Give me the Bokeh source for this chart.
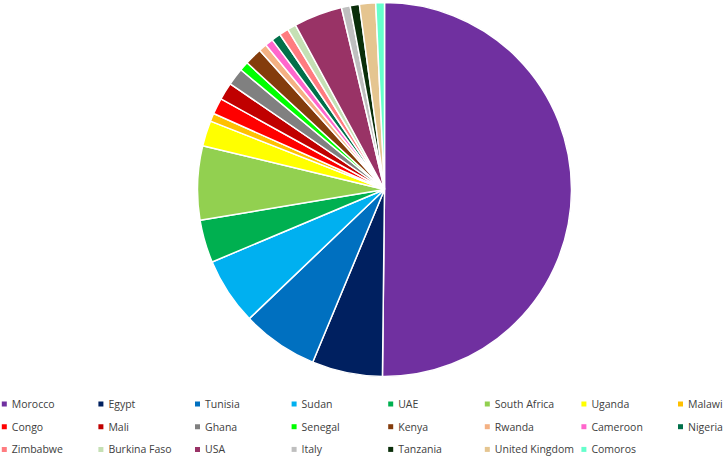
import math
from bokeh.plotting import figure
from bokeh.models import Range1d, ColumnDataSource
from bokeh.core.properties import value
from bokeh.embed import file_html
from bokeh.resources import INLINE

countries = ["Morocco", "Egypt", "Tunisia", "Sudan", "UAE", "South Africa", "Uganda", "Malawi",
             "Congo", "Mali", "Ghana", "Senegal", "Kenya", "Rwanda", "Cameroon", "Nigeria",
             "Zimbabwe", "Burkina Faso", "USA", "Italy", "Tanzania", "United Kingdom", "Comoros"]
shares = [50.2, 6.1, 6.6, 5.8, 3.7, 6.4, 2.2, 0.7,
          1.4, 1.5, 1.5, 0.8, 1.5, 0.7, 0.7, 0.8,
          0.8, 0.75, 4.2, 0.75, 0.8, 1.4, 0.75]
colors = ["#7030A0", "#002060", "#0070C0", "#00B0F0", "#00B050", "#92D050", "#FFFF00", "#FFC000",
          "#FF0000", "#C00000", "#808080", "#00FF00", "#843C0C", "#F4B183", "#FF66CC", "#00704A",
          "#FF7C80", "#C5E0B4", "#993366", "#BFBFBF", "#0A2E0A", "#E5C590", "#66FFCC"]

W, H = 725, 457
p = figure(width=W, height=H, output_backend="svg", toolbar_location=None,
           x_range=Range1d(0, W), y_range=Range1d(0, H), min_border=0)
p.axis.visible = False
p.grid.visible = False
p.outline_line_color = None
p.background_fill_color = "white"

total = sum(shares)
starts, ends = [], []
cum = 0.0
for s in shares:
    starts.append(math.pi / 2 - cum / total * 2 * math.pi)
    cum += s
    ends.append(math.pi / 2 - cum / total * 2 * math.pi)

src = ColumnDataSource(dict(start=starts, end=ends, color=colors, name=countries))
cx, cy, r = 384, H - 189, 187
p.wedge(x=cx, y=cy, radius=r, start_angle="start", end_angle="end", direction="clock",
        fill_color="color", line_color="white", line_width=1.5, source=src)

# legend
ncol = 8
lx = [3.8 + (i % ncol) * 96.6 for i in range(len(countries))]
ly = [H - (403.5 + (i // ncol) * 22.7) for i in range(len(countries))]
lsrc = ColumnDataSource(dict(x=lx, y=ly, tx=[x + 7.5 for x in lx], color=colors, name=countries))
p.scatter(x="x", y="y", marker="square", size=5, fill_color="color", line_color=None, source=lsrc)
p.text(x="tx", y="y", text="name", text_font=value("Open Sans"), text_font_size="10.5px",
       text_color="#404040", text_baseline="middle", source=lsrc)

open("out.html", "w").write(file_html(p, INLINE))
